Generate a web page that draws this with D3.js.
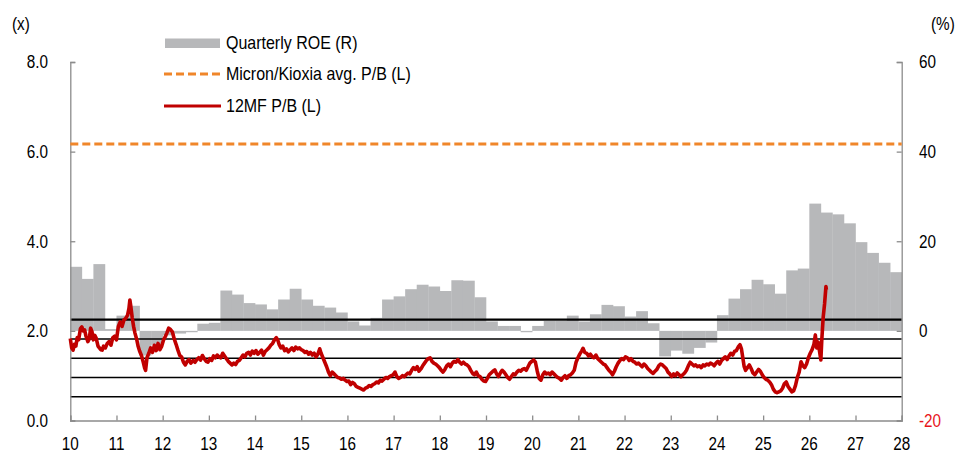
<!DOCTYPE html>
<html><head><meta charset="utf-8">
<script src="https://cdn.jsdelivr.net/npm/d3@7"></script>
<style>body{margin:0;background:#fff}svg{display:block}</style>
</head><body>
<svg id="c" width="967" height="455"></svg>
<script>
// ---- DATA ----
const yearTicks = [2010,2011,2012,2013,2014,2015,2016,2017,2018,2019,2020,2021,2022,2023,2024,2025,2026,2027,2028];
const yearLabels = ["10","11","12","13","14","15","16","17","18","19","20","21","22","23","24","25","26","27","28"];
const leftTicks = [0,2,4,6,8];
const leftLabels = ["0.0","2.0","4.0","6.0","8.0"];
const rightTicks = [-20,0,20,40,60];
const rightLabels = ["-20","0","20","40","60"];

// Quarterly ROE (%) 2010Q1 .. 2027Q4
const roeQuarters = d3.range(72).map(i => 2010 + i / 4);
const roeValues = [
 14.3, 11.6, 14.9, 0.4,
 3.4, 5.6, -5.5, -3.1,
 -1.0, -0.6, -0.3, 1.6,
 1.8, 9.0, 8.1, 6.2,
 5.9, 4.8, 7.0, 9.4,
 7.0, 5.6, 5.2, 4.1,
 2.1, 1.2, 2.9, 7.0,
 7.7, 9.3, 10.3, 9.9,
 8.9, 11.3, 11.2, 7.5,
 2.1, 1.1, 1.1, -0.3,
 1.1, 2.2, 2.2, 3.4,
 2.1, 3.7, 5.8, 5.5,
 3.2, 4.4, 1.7, -5.7,
 -4.4, -5.1, -3.8, -2.6,
 3.5, 7.2, 9.3, 11.4,
 10.4, 8.3, 13.5, 13.9,
 28.4, 26.4, 26.0, 24.0,
 19.8, 17.4, 15.2, 13.1
];

// Peer average P/B (x)
const peerAvgPB = 6.17;
// Mean and +/-1, 2 sigma bands of 12MF P/B (x)
const bandLevels = [2.25, 1.82, 1.39, 0.96, 0.53];

// 12MF P/B (x)
const pbDates = [
2010.00,2010.03,2010.06,2010.09,2010.12,2010.15,2010.18,2010.22,2010.25,2010.28,2010.31,2010.34,2010.38,2010.41,2010.44,2010.47,2010.50,2010.53,2010.56,2010.60,
2010.63,2010.66,2010.69,2010.72,2010.76,2010.80,2010.84,2010.88,2010.92,2010.96,2011.00,2011.04,2011.08,2011.12,2011.16,2011.20,2011.24,2011.27,2011.29,2011.31,
2011.34,2011.37,2011.40,2011.44,2011.47,2011.50,2011.54,2011.58,2011.61,2011.63,2011.66,2011.70,2011.74,2011.78,2011.82,2011.86,2011.90,2011.94,2011.98,2012.02,
2012.06,2012.09,2012.13,2012.17,2012.21,2012.25,2012.29,2012.33,2012.37,2012.41,2012.45,2012.49,2012.53,2012.57,2012.61,2012.66,2012.70,2012.74,2012.78,2012.82,
2012.86,2012.90,2012.94,2012.98,2013.02,2013.06,2013.10,2013.14,2013.18,2013.22,2013.26,2013.30,2013.34,2013.38,2013.42,2013.46,2013.50,2013.54,2013.58,2013.62,
2013.66,2013.70,2013.74,2013.78,2013.82,2013.86,2013.90,2013.94,2013.98,2014.02,2014.06,2014.10,2014.14,2014.18,2014.22,2014.26,2014.30,2014.34,2014.38,2014.42,
2014.46,2014.49,2014.52,2014.56,2014.60,2014.64,2014.68,2014.72,2014.76,2014.80,2014.84,2014.88,2014.92,2014.96,2015.00,2015.04,2015.08,2015.12,2015.16,2015.20,
2015.24,2015.28,2015.32,2015.36,2015.40,2015.43,2015.47,2015.51,2015.55,2015.59,2015.63,2015.67,2015.71,2015.75,2015.79,2015.83,2015.87,2015.91,2015.95,2015.99,
2016.03,2016.07,2016.11,2016.15,2016.19,2016.23,2016.27,2016.31,2016.35,2016.39,2016.43,2016.47,2016.51,2016.55,2016.59,2016.63,2016.67,2016.71,2016.75,2016.79,
2016.83,2016.87,2016.91,2016.95,2016.99,2017.03,2017.07,2017.11,2017.15,2017.19,2017.23,2017.27,2017.31,2017.35,2017.39,2017.43,2017.47,2017.51,2017.55,2017.59,
2017.63,2017.67,2017.71,2017.75,2017.79,2017.83,2017.87,2017.91,2017.95,2017.99,2018.03,2018.07,2018.11,2018.15,2018.19,2018.23,2018.27,2018.31,2018.35,2018.39,
2018.43,2018.47,2018.51,2018.55,2018.59,2018.63,2018.67,2018.71,2018.75,2018.79,2018.83,2018.87,2018.91,2018.95,2018.99,2019.03,2019.07,2019.11,2019.15,2019.19,
2019.23,2019.27,2019.31,2019.35,2019.39,2019.43,2019.47,2019.51,2019.55,2019.59,2019.63,2019.67,2019.71,2019.75,2019.79,2019.83,2019.87,2019.91,2019.95,2019.99,
2020.03,2020.07,2020.11,2020.15,2020.19,2020.23,2020.27,2020.31,2020.35,2020.39,2020.43,2020.47,2020.51,2020.55,2020.59,2020.63,2020.67,2020.71,2020.75,2020.79,
2020.83,2020.87,2020.91,2020.95,2020.99,2021.03,2021.07,2021.10,2021.14,2021.18,2021.22,2021.26,2021.30,2021.34,2021.38,2021.42,2021.46,2021.50,2021.54,2021.58,
2021.62,2021.66,2021.70,2021.74,2021.78,2021.82,2021.86,2021.90,2021.94,2021.98,2022.02,2022.06,2022.10,2022.14,2022.18,2022.22,2022.26,2022.30,2022.34,2022.38,
2022.42,2022.46,2022.50,2022.54,2022.58,2022.62,2022.66,2022.70,2022.74,2022.78,2022.82,2022.86,2022.90,2022.94,2022.98,2023.02,2023.06,2023.10,2023.14,2023.18,
2023.22,2023.26,2023.30,2023.34,2023.38,2023.42,2023.46,2023.50,2023.54,2023.58,2023.62,2023.66,2023.70,2023.74,2023.78,2023.82,2023.86,2023.90,2023.94,2023.98,
2024.02,2024.06,2024.10,2024.14,2024.18,2024.22,2024.26,2024.30,2024.34,2024.38,2024.42,2024.46,2024.50,2024.53,2024.56,2024.59,2024.62,2024.66,2024.70,2024.74,
2024.78,2024.82,2024.86,2024.90,2024.94,2024.98,2025.02,2025.06,2025.10,2025.14,2025.18,2025.22,2025.26,2025.30,2025.34,2025.38,2025.42,2025.46,2025.50,2025.54,
2025.58,2025.62,2025.66,2025.70,2025.74,2025.78,2025.82,2025.86,2025.90,2025.94,2025.98,2026.02,2026.06,2026.10,2026.13,2026.16,2026.19,2026.22,2026.25,2026.27,
2026.30,2026.33,2026.36,2026.37
];
const pbValues = [
1.83,1.62,1.57,1.70,1.66,1.85,1.80,2.05,2.09,2.00,2.02,1.88,1.76,1.82,2.06,1.98,1.80,1.90,1.84,1.66,
1.62,1.58,1.57,1.66,1.62,1.72,1.76,1.68,1.85,1.88,1.80,2.10,2.20,2.10,2.24,2.28,2.35,2.50,2.69,2.55,
2.30,2.10,1.95,1.80,1.65,1.55,1.45,1.30,1.17,1.12,1.40,1.50,1.62,1.52,1.68,1.56,1.72,1.58,1.66,1.80,
1.88,1.95,2.06,2.03,1.98,1.82,1.70,1.57,1.45,1.42,1.30,1.24,1.32,1.36,1.28,1.34,1.30,1.36,1.40,1.35,
1.45,1.38,1.32,1.30,1.38,1.34,1.44,1.40,1.46,1.42,1.40,1.50,1.44,1.38,1.32,1.28,1.24,1.28,1.25,1.32,
1.34,1.40,1.46,1.42,1.50,1.52,1.46,1.55,1.50,1.56,1.48,1.52,1.57,1.46,1.54,1.58,1.62,1.68,1.72,1.80,
1.85,1.80,1.70,1.62,1.66,1.56,1.60,1.53,1.58,1.62,1.56,1.64,1.60,1.62,1.58,1.56,1.52,1.54,1.48,1.52,
1.46,1.50,1.42,1.48,1.60,1.50,1.40,1.30,1.20,1.08,1.00,1.08,1.04,1.00,0.96,0.95,0.92,0.94,0.90,0.87,
0.88,0.80,0.85,0.82,0.76,0.74,0.72,0.70,0.68,0.72,0.74,0.78,0.76,0.80,0.82,0.86,0.84,0.90,0.88,0.92,
0.96,0.94,0.98,1.00,1.02,1.08,0.98,0.94,0.96,1.00,0.98,1.02,1.06,1.04,1.12,1.18,1.14,1.20,1.10,1.15,
1.22,1.28,1.34,1.38,1.40,1.32,1.28,1.26,1.22,1.18,1.12,1.08,1.14,1.22,1.26,1.20,1.28,1.32,1.30,1.36,
1.30,1.26,1.30,1.26,1.24,1.20,1.12,1.05,1.02,1.08,1.00,0.98,0.92,0.88,0.87,0.94,1.02,1.06,1.10,1.13,
1.04,0.98,1.06,1.12,1.08,1.02,0.96,0.92,0.98,1.04,1.02,1.08,1.12,1.10,1.14,1.16,1.12,1.20,1.28,1.32,
1.35,1.30,1.10,0.94,0.90,1.02,1.08,1.04,1.06,1.02,1.08,1.04,1.00,0.96,0.94,0.90,0.96,1.00,0.94,1.00,
1.02,1.06,1.12,1.30,1.40,1.48,1.55,1.61,1.52,1.50,1.44,1.48,1.42,1.40,1.46,1.38,1.34,1.30,1.26,1.24,
1.18,1.12,1.08,1.02,1.10,1.20,1.28,1.34,1.38,1.36,1.42,1.40,1.34,1.38,1.32,1.30,1.26,1.28,1.24,1.20,
1.26,1.22,1.16,1.12,1.08,1.05,1.10,1.14,1.22,1.26,1.24,1.20,1.16,1.08,1.04,0.98,1.04,1.00,1.06,1.02,
0.98,1.02,1.06,1.12,1.22,1.30,1.26,1.22,1.24,1.20,1.22,1.18,1.24,1.22,1.26,1.24,1.28,1.26,1.22,1.28,
1.32,1.26,1.34,1.38,1.42,1.36,1.44,1.50,1.46,1.54,1.56,1.64,1.69,1.60,1.40,1.20,1.12,1.18,1.24,1.16,
1.06,1.02,1.08,1.14,1.10,1.02,0.96,0.92,0.90,0.86,0.80,0.70,0.64,0.62,0.64,0.66,0.72,0.82,0.86,0.76,
0.70,0.64,0.66,0.78,0.96,1.08,1.31,1.22,1.18,1.26,1.40,1.50,1.58,1.70,1.91,1.62,1.75,1.55,1.35,1.80,
2.30,2.60,2.99,2.92
];

// ---- LAYOUT ----
const X0 = 70.3, X1 = 901.7, YT = 62, YB = 420.5;
const svg = d3.select("#c");
const x = d3.scaleLinear().domain([2010, 2028]).range([X0, X1]);
const yL = d3.scaleLinear().domain([0, 8]).range([YB, YT]);
const yR = d3.scaleLinear().domain([-20, 60]).range([YB, YT]);
const FONT = "Liberation Sans, Arial, sans-serif";
const axisColor = "#8c8c8c";
const SY = 1.2;

function label(g, txt, tx, ty, anchor, size, color) {
  g.append("text")
    .attr("transform", `translate(${tx},${ty}) scale(1,${SY})`)
    .attr("text-anchor", anchor)
    .attr("font-family", FONT)
    .attr("font-size", size)
    .attr("fill", color || "#000")
    .text(txt);
}

// bars
svg.append("g").selectAll("rect").data(roeValues).join("rect")
  .attr("x", (d, i) => x(roeQuarters[i]))
  .attr("width", (d, i) => x(roeQuarters[i] + 0.25) - x(roeQuarters[i]) + 0.3)
  .attr("y", d => Math.min(yR(d), yR(0)))
  .attr("height", d => Math.abs(yR(d) - yR(0)))
  .attr("fill", "#b7b8ba");

// band lines
svg.append("g").selectAll("line").data(bandLevels).join("line")
  .attr("x1", X0).attr("x2", X1)
  .attr("y1", d => yL(d)).attr("y2", d => yL(d))
  .attr("stroke", "#000")
  .attr("stroke-width", (d, i) => i === 0 ? 2.2 : 1.6);

// axes
const gL = svg.append("g").attr("transform", `translate(${X0},0)`)
  .call(d3.axisLeft(yL).tickValues(leftTicks).tickSize(-5).tickFormat(""));
const gR = svg.append("g").attr("transform", `translate(${X1},0)`)
  .call(d3.axisRight(yR).tickValues(rightTicks).tickSize(-5).tickFormat(""));
const gB = svg.append("g").attr("transform", `translate(0,${YB})`)
  .call(d3.axisBottom(x).tickValues(yearTicks).tickSize(-5).tickFormat(""));
[gL, gR, gB].forEach(g => {
  g.selectAll("path").attr("stroke", axisColor).attr("stroke-width", 1.3);
  g.selectAll("line").attr("stroke", axisColor).attr("stroke-width", 1.3);
});

const tg = svg.append("g");
leftTicks.forEach((t, i) => label(tg, leftLabels[i], 48, yL(t) + 6.3, "end", 15.3));
rightTicks.forEach((t, i) => label(tg, rightLabels[i], 919, yR(t) + 6.3, "start", 15.3, t < 0 ? "#e8141b" : "#000"));
yearTicks.forEach((t, i) => label(tg, yearLabels[i], x(t), 450, "middle", 15.3));
label(tg, "(x)", 12, 30, "start", 15.3);
label(tg, "(%)", 931, 30, "start", 15.3);

// peer average dashed line
svg.append("line")
  .attr("x1", X0).attr("x2", X1)
  .attr("y1", yL(peerAvgPB)).attr("y2", yL(peerAvgPB))
  .attr("stroke", "#f0862a").attr("stroke-width", 3)
  .attr("stroke-dasharray", "8,4");

// 12MF P/B line
const pbData = pbDates.map((d, i) => [d, pbValues[i]]);
svg.append("path")
  .datum(pbData)
  .attr("fill", "none")
  .attr("stroke", "#c00000")
  .attr("stroke-width", 3.6)
  .attr("stroke-linejoin", "round")
  .attr("d", d3.line().x(d => x(d[0])).y(d => yL(d[1])));

// legend
const lg = svg.append("g");
lg.append("rect").attr("x", 165).attr("y", 38.5).attr("width", 55).attr("height", 9.5).attr("fill", "#b7b8ba");
lg.append("line").attr("x1", 164).attr("x2", 221).attr("y1", 74).attr("y2", 74)
  .attr("stroke", "#f0862a").attr("stroke-width", 3).attr("stroke-dasharray", "8,4");
lg.append("line").attr("x1", 164).attr("x2", 221).attr("y1", 106).attr("y2", 106)
  .attr("stroke", "#c00000").attr("stroke-width", 3);
label(lg, "Quarterly ROE (R)", 226, 48.5, "start", 16);
label(lg, "Micron/Kioxia avg. P/B (L)", 226, 80, "start", 16);
label(lg, "12MF P/B (L)", 226, 112, "start", 16);
</script>
</body></html>
